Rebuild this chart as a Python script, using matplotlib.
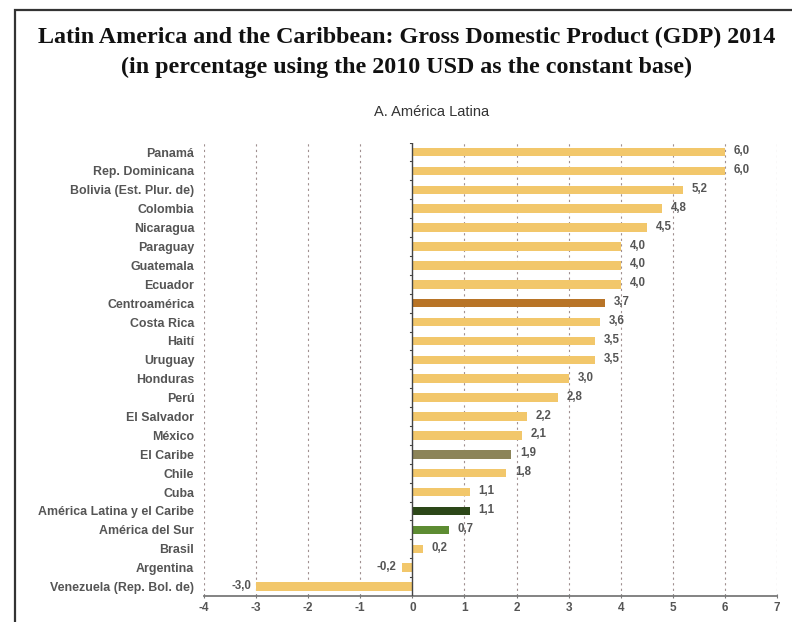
import matplotlib
matplotlib.use("Agg")
import matplotlib.pyplot as plt
from matplotlib.patches import Rectangle

countries = ["Panamá", "Rep. Dominicana", "Bolivia (Est. Plur. de)", "Colombia", "Nicaragua",
             "Paraguay", "Guatemala", "Ecuador", "Centroamérica", "Costa Rica", "Haití",
             "Uruguay", "Honduras", "Perú", "El Salvador", "México", "El Caribe", "Chile",
             "Cuba", "América Latina y el Caribe", "América del Sur", "Brasil", "Argentina",
             "Venezuela (Rep. Bol. de)"]
values = [6.0, 6.0, 5.2, 4.8, 4.5, 4.0, 4.0, 4.0, 3.7, 3.6, 3.5, 3.5, 3.0, 2.8, 2.2, 2.1,
          1.9, 1.8, 1.1, 1.1, 0.7, 0.2, -0.2, -3.0]
xticks = [-4, -3, -2, -1, 0, 1, 2, 3, 4, 5, 6, 7]

special = {"Centroamérica": "#B87427", "El Caribe": "#8C8459",
           "América Latina y el Caribe": "#2C4718", "América del Sur": "#5D8C32"}
base_color = "#F2C76B"
colors = [special.get(c, base_color) for c in countries]

fig = plt.figure(figsize=(7.92, 6.22), dpi=100)
fig.patch.set_facecolor("white")

# frame
fig.add_artist(Rectangle((15/792, -0.01), 1.0, 1 - 10/622 + 0.01, transform=fig.transFigure,
                         fill=False, edgecolor="#333333", linewidth=1.6, clip_on=False))

fig.text(407/792, 1 - 37/622, "Latin America and the Caribbean: Gross Domestic Product (GDP) 2014",
         ha="center", va="center", family="Liberation Serif", fontweight="bold", fontsize=17.3,
         color="#111111")
fig.text(407/792, 1 - 67/622, "(in percentage using the 2010 USD as the constant base)",
         ha="center", va="center", family="Liberation Serif", fontweight="bold", fontsize=17.3,
         color="#111111")
fig.text(432/792, 1 - 112/622, "A. América Latina", ha="center", va="center",
         family="Liberation Sans", fontsize=10.5, color="#333333")

left = 204/792
right = 777/792
bottom = 1 - 596/622
top = 1 - 142.6/622
ax = fig.add_axes([left, bottom, right - left, top - bottom])

n = len(countries)
ypos = list(range(n))
ax.barh(ypos, values, height=0.45, color=colors, zorder=3)
ax.set_ylim(n - 0.5, -0.5)
ax.set_xlim(-4, 7)

for x in xticks:
    if x != 0:
        ax.axvline(x, color="#a09090", linewidth=0.8, linestyle=(0, (2.0, 3.0)), zorder=1)
ax.axvline(0, color="#444444", linewidth=1.0, zorder=4)
for b in range(n):
    yb = b - 0.5
    ax.plot([-0.05, 0], [yb, yb], color="#444444", lw=0.8, zorder=4)

txt_color = "#555555"
for y, v in zip(ypos, values):
    s = f"{v:.1f}".replace(".", ",")
    if v >= 0:
        ax.text(v + 0.17, y - 0.05, s, ha="left", va="center", fontsize=8.3, fontweight="bold",
                family="Liberation Sans", color=txt_color, zorder=5)
    else:
        ax.text(v - 0.1, y - 0.05, s, ha="right", va="center", fontsize=8.3, fontweight="bold",
                family="Liberation Sans", color=txt_color, zorder=5)

ax.set_yticks(ypos)
ax.set_yticklabels(countries, fontsize=8.9, fontweight="bold", family="Liberation Sans",
                   color=txt_color)
ax.tick_params(axis="y", length=0, pad=7)
ax.set_xticks(xticks)
ax.set_xticklabels([str(x) for x in xticks], fontsize=8.5, fontweight="bold",
                   family="Liberation Sans", color=txt_color)
ax.tick_params(axis="x", length=3, width=0.8, color="#777777", pad=3, direction="inout")

for s in ["top", "right", "left"]:
    ax.spines[s].set_visible(False)
ax.spines["bottom"].set_color("#7a7a7a")
ax.spines["bottom"].set_linewidth(1.3)

fig.savefig("out.png", dpi=100, facecolor="white")
